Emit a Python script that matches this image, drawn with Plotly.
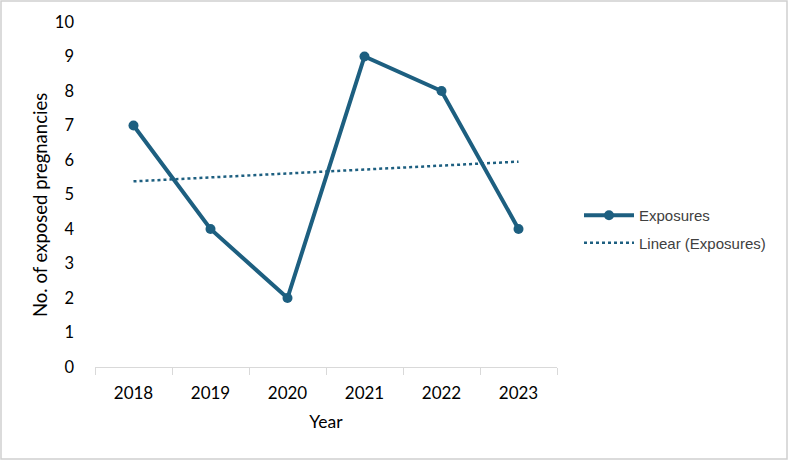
import numpy as np
import plotly.graph_objects as go

years = ["2018", "2019", "2020", "2021", "2022", "2023"]
exposures = [7, 4, 2, 9, 8, 4]

# Linear trendline (least squares fit on category index, like Excel)
idx = np.arange(len(years))
slope, intercept = np.polyfit(idx, exposures, 1)
trend = slope * idx + intercept

color = "#1d5f80"
fig = go.Figure()
fig.add_trace(go.Scatter(
    x=years, y=exposures, name="Exposures", mode="lines+markers",
    line=dict(color=color, width=4), marker=dict(size=10, color=color),
    legendgroup="a",
))
fig.add_trace(go.Scatter(
    x=years, y=trend, name="Linear (Exposures)", mode="lines",
    line=dict(color=color, width=2.5, dash="dot"),
    legendgroup="b",
))

W, H = 788, 460
L, R, T, B = 95, 231, 22, 93
pw, ph = W - L - R, H - T - B

fig.update_layout(
    width=W, height=H,
    margin=dict(l=L, r=R, t=T, b=B),
    paper_bgcolor="white", plot_bgcolor="white",
    font=dict(family="Lato, Open Sans, sans-serif", color="#000000"),
    showlegend=True,
    legend=dict(
        x=(579 - L) / pw, y=(H - B - 229) / ph, xanchor="left", yanchor="middle",
        font=dict(family="Liberation Sans, Arial, sans-serif", size=15, color="#404040"),
        tracegroupgap=5, itemwidth=50,
    ),
    xaxis=dict(
        type="category", range=[-0.5, len(years) - 0.5],
        showgrid=False, showline=True, linecolor="#d9d9d9", linewidth=1,
        ticks="outside", tickson="boundaries", ticklen=7, tickcolor="#d9d9d9",
        tickfont=dict(size=17), ticklabelstandoff=11,
        title=dict(text="Year", font=dict(size=17.5), standoff=13),
        zeroline=False,
    ),
    yaxis=dict(
        range=[0, 10], dtick=1, showgrid=False, showline=False, zeroline=False,
        ticks="", tickfont=dict(size=16.5), ticklabelstandoff=20,
    ),
    annotations=[dict(
        text="No. of exposed pregnancies", textangle=-90, showarrow=False,
        xref="paper", yref="paper",
        x=(40 - L) / pw, y=(H - B - 205) / ph, xanchor="center", yanchor="middle",
        font=dict(size=18.5),
    )],
    shapes=[dict(
        type="rect", xref="paper", yref="paper",
        x0=(1 - L) / pw, x1=(W - 1 - L) / pw,
        y0=-(B - 1) / ph, y1=1 + (T - 1) / ph,
        line=dict(color="#d0d0d0", width=1.5), layer="below",
    )],
)

fig.write_html(
    "out.html",
    config={"displayModeBar": False},
    post_script="document.body.style.margin='0';document.body.style.overflow='hidden';",
)
